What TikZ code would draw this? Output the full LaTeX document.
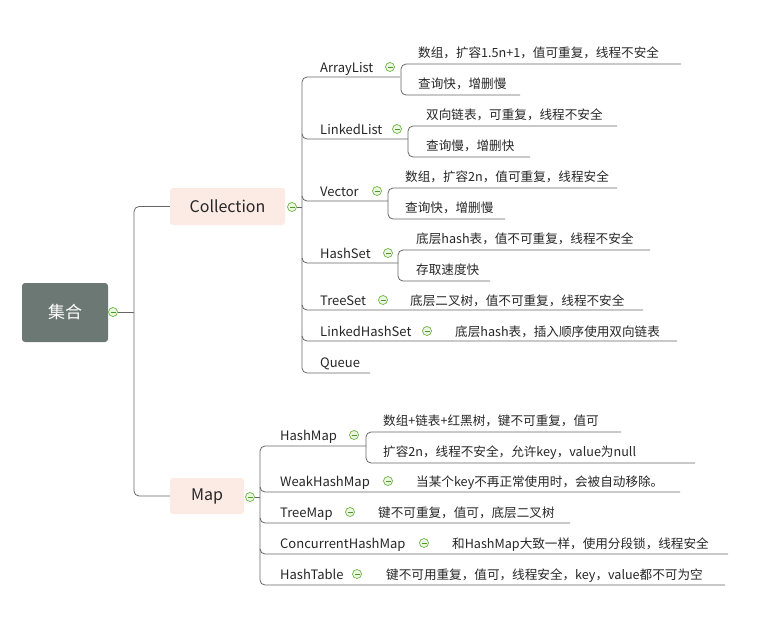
\documentclass[tikz,border=0pt]{standalone}
\usepackage{fontspec}
\setmainfont{Noto Sans CJK SC}
\definecolor{icd}{RGB}{110,180,70}
\definecolor{icf}{RGB}{235,247,225}
\definecolor{icm}{RGB}{80,150,40}
\definecolor{rootc}{RGB}{108,120,116}
\definecolor{subc}{RGB}{252,234,228}
\begin{document}
\begin{tikzpicture}[x=1pt,y=-1pt,
  ln/.style={draw=black!60,line width=0.8pt,rounded corners=5pt},
  t/.style={anchor=base west,inner sep=0pt,font=\fontsize{12.6}{12}\selectfont,text=black!85},
  tk/.style={anchor=base west,inner sep=0pt,font=\fontsize{13}{12}\selectfont,text=black!85},
  ic/.style={circle,draw=icd,fill=icf,line width=0.7pt,minimum size=9pt,inner sep=0pt,
    path picture={\draw[icm,line width=0.8pt] ([xshift=-2.5pt]path picture bounding box.center)--([xshift=2.5pt]path picture bounding box.center);}}]
\useasboundingbox (0,0) rectangle (782,629);
% root
\node[fill=rootc,rounded corners=3pt,minimum width=86pt,minimum height=59pt,text=white,font=\fontsize{17}{17}\selectfont] (root) at (65,312.5) {集合};
\node[ic] (ir) at (113,312) {};
\node[fill=subc,rounded corners=3pt,minimum width=115pt,minimum height=37pt,font=\fontsize{16}{16}\selectfont,text=black!85] (col) at (227.5,206.5) {Collection};
\node[fill=subc,rounded corners=3pt,minimum width=74pt,minimum height=36pt,font=\fontsize{16}{16}\selectfont,text=black!85] (map) at (207,496) {Map};
\node[ic] (ic) at (292,207) {};
\node[ic] (im) at (250,497) {};
\draw[ln] (ir) -- (134,312);
\draw[ln] (col.west) -- (134,206.5) -- (134,496) -- (map.west);
\draw[ln] (ic) -- (302,207);
% Collection trunk
\draw[ln] (400,77) -- (302,77) -- (302,373) -- (370,373);
\draw[ln] (302,134) -- (302,139) -- (408,139);
\draw[ln] (302,196) -- (302,201) -- (388,201);
\draw[ln] (302,258) -- (302,263) -- (398,263);
\draw[ln] (302,305) -- (302,310) -- (643,310);
\draw[ln] (302,336) -- (302,341) -- (677,341);
\node[tk] (al) at (320,72) {ArrayList}; \node[ic] at (390,67) {};
\node[tk] (ll) at (320,134) {LinkedList}; \node[ic] at (397,129) {};
\node[tk] (ve) at (320,196) {Vector}; \node[ic] at (377,191) {};
\node[tk] (hs) at (320,258) {HashSet}; \node[ic] at (388,253) {};
\node[tk] (ts) at (320,305) {TreeSet}; \node[ic] at (383,300) {};
\node[tk] (lh) at (320,336) {LinkedHashSet}; \node[ic] at (427,331) {};
\node[tk] (qu) at (320,367) {Queue};
% sub brackets
\draw[ln] (681,64) -- (401,64) -- (401,95) -- (520,95);
\draw[ln] (617,126) -- (408,126) -- (408,157) -- (530,157);
\draw[ln] (617,188) -- (388,188) -- (388,219) -- (505,219);
\draw[ln] (650,250) -- (398,250) -- (398,281) -- (490,281);
\node[t] at (418,57) {数组，扩容1.5n+1，值可重复，线程不安全};
\node[t] at (418,88) {查询快，增删慢};
\node[t] at (426,119) {双向链表，可重复，线程不安全};
\node[t] at (426,150) {查询慢，增删快};
\node[t] at (405,181) {数组，扩容2n，值可重复，线程安全};
\node[t] at (405,212) {查询快，增删慢};
\node[t] at (416,243) {底层hash表，值不可重复，线程不安全};
\node[t] at (416,274) {存取速度快};
\node[t] at (410,305) {底层二叉树，值不可重复，线程不安全};
\node[t] at (455,336) {底层hash表，插入顺序使用双向链表};
% Map trunk
\draw[ln] (im) -- (260,497);
\draw[ln] (366,446) -- (260,446) -- (260,585) -- (725,585);
\draw[ln] (260,487) -- (260,492) -- (680,492);
\draw[ln] (260,518) -- (260,523) -- (570,523);
\draw[ln] (260,549) -- (260,554) -- (728,554);
\draw[ln] (621,432) -- (366,432) -- (366,463) -- (695,463);
\node[tk] at (280,440) {HashMap}; \node[ic] at (354,435) {};
\node[tk] at (280,486) {WeakHashMap}; \node[ic] at (388,481) {};
\node[tk] at (280,517) {TreeMap}; \node[ic] at (350,512) {};
\node[tk] at (280,548) {ConcurrentHashMap}; \node[ic] at (424,543) {};
\node[tk] at (280,579) {HashTable}; \node[ic] at (357,574) {};
\node[t] at (383,425) {数组+链表+红黑树，键不可重复，值可};
\node[t] at (383,456) {扩容2n，线程不安全，允许key，value为null};
\node[t] at (416,486) {当某个key不再正常使用时，会被自动移除。};
\node[t] at (378,517) {键不可重复，值可，底层二叉树};
\node[t] at (452,548) {和HashMap大致一样，使用分段锁，线程安全};
\node[t] at (386,579) {键不可用重复，值可，线程安全，key，value都不可为空};
\end{tikzpicture}
\end{document}
